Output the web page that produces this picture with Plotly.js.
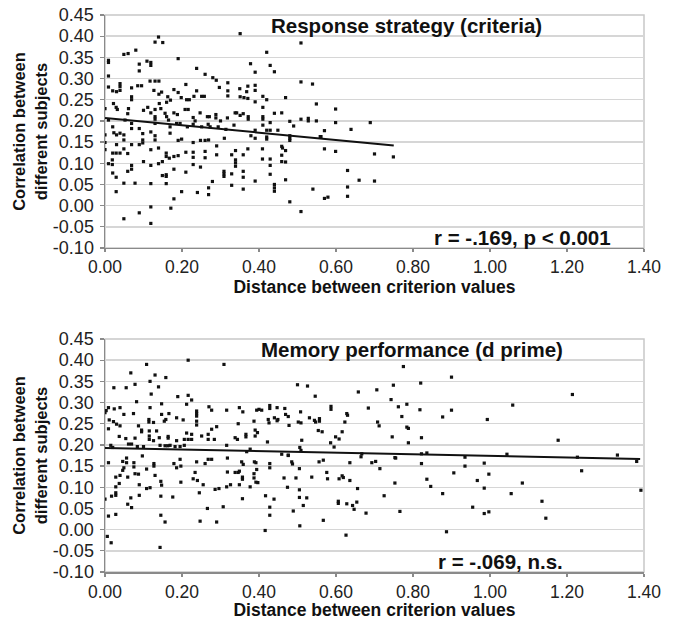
<!DOCTYPE html>
<html>
<head>
<meta charset="utf-8">
<script src="https://cdn.plot.ly/plotly-3.0.1.min.js"></script>
<style>html,body{margin:0;padding:0;background:#fff;}#chart{width:674px;height:620px;}</style>
</head>
<body>
<div id="chart"></div>
<script>
// ---------- DATA ----------
const xTicks = [0, 0.2, 0.4, 0.6, 0.8, 1.0, 1.2, 1.4];
const xTickLabels = ['0.00','0.20','0.40','0.60','0.80','1.00','1.20','1.40'];
const yTicks = [-0.10,-0.05,0,0.05,0.10,0.15,0.20,0.25,0.30,0.35,0.40,0.45];
const yTickLabels = ['-0.10','-0.05','0.00','0.05','0.10','0.15','0.20','0.25','0.30','0.35','0.40','0.45'];

const topTitle = 'Response strategy (criteria)';
const bottomTitle = 'Memory performance (d prime)';
const topStat = 'r = -.169, p < 0.001';
const bottomStat = 'r = -.069, n.s.';
const xTitle = 'Distance between criterion values';
const yTitle = 'Correlation between<br>different subjects';

// [distance, correlation] pairs — response strategy (criteria)
const criteriaPoints = [
[0.139,0.398],[0.13,0.386],[0.15,0.385],[0.351,0.406],[0.08,0.367],[0.06,0.359],[0.049,0.357],[0.009,0.343],[0.009,0.338],[0.089,0.334],[0.109,0.341],[0.119,0.338],[0.119,0.331],[0.089,0.318],[0.19,0.347],[0.238,0.324],[0.009,0.306],[0.26,0.31],[0.28,0.302],[0.289,0.296],[0.117,0.294],[0.13,0.294],[0.14,0.294],[0.039,0.288],[0.039,0.281],[0.039,0.272],[0.02,0.271],[0.03,0.269],[0.069,0.278],[0.069,0.257],[0.069,0.25],[0.085,0.283],[0.095,0.283],[0.009,0.28],[0.127,0.272],[0.147,0.268],[0.14,0.263],[0.163,0.257],[0.17,0.249],[0.16,0.244],[0.179,0.274],[0.19,0.267],[0.21,0.286],[0.198,0.255],[0.212,0.25],[0.219,0.25],[0.231,0.258],[0.238,0.271],[0.251,0.258],[0.258,0.258],[0.297,0.279],[0.319,0.29],[0.319,0.271],[0.319,0.259],[0.35,0.276],[0.351,0.257],[0.368,0.269],[0.361,0.255],[0.0,0.229],[0.022,0.241],[0.029,0.232],[0.032,0.227],[0.061,0.229],[0.009,0.202],[0.052,0.202],[0.059,0.217],[0.1,0.225],[0.111,0.232],[0.119,0.219],[0.13,0.227],[0.13,0.21],[0.13,0.204],[0.141,0.241],[0.145,0.229],[0.156,0.218],[0.16,0.21],[0.165,0.202],[0.179,0.219],[0.188,0.215],[0.208,0.227],[0.216,0.227],[0.229,0.208],[0.234,0.2],[0.247,0.219],[0.266,0.21],[0.271,0.21],[0.288,0.215],[0.288,0.207],[0.3,0.2],[0.318,0.207],[0.338,0.219],[0.342,0.219],[0.351,0.213],[0.359,0.217],[0.02,0.186],[0.023,0.172],[0.03,0.167],[0.039,0.171],[0.049,0.167],[0.069,0.194],[0.069,0.182],[0.089,0.182],[0.098,0.17],[0.119,0.174],[0.13,0.194],[0.169,0.186],[0.169,0.171],[0.186,0.194],[0.195,0.194],[0.214,0.186],[0.229,0.192],[0.251,0.186],[0.268,0.192],[0.273,0.186],[0.294,0.186],[0.314,0.18],[0.335,0.19],
[0.0,0.167],[0.0,0.149],[0.0,0.132],[0.009,0.099],[0.019,0.108],[0.019,0.097],[0.03,0.144],[0.02,0.124],[0.029,0.124],[0.039,0.124],[0.049,0.155],[0.049,0.134],[0.02,0.077],[0.029,0.067],[0.029,0.033],[0.049,0.053],[0.049,-0.031],[0.059,0.123],[0.069,0.144],[0.069,0.095],[0.069,0.086],[0.059,0.081],[0.078,0.053],[0.089,-0.017],[0.089,0.144],[0.098,0.148],[0.098,0.155],[0.1,0.104],[0.119,0.132],[0.119,0.095],[0.119,0.052],[0.119,-0.003],[0.119,-0.042],[0.13,0.155],[0.13,0.165],[0.139,0.136],[0.139,0.099],[0.149,0.104],[0.149,0.071],[0.159,0.073],[0.159,0.069],[0.159,0.052],[0.159,0.124],[0.159,0.116],[0.167,0.112],[0.171,-0.006],[0.179,0.116],[0.19,0.118],[0.179,0.086],[0.179,0.016],[0.19,0.154],[0.199,0.157],[0.199,0.033],[0.21,0.126],[0.21,0.079],[0.229,0.149],[0.229,0.126],[0.229,0.114],[0.229,0.097],[0.24,0.031],[0.248,0.154],[0.248,0.091],[0.26,0.154],[0.26,0.128],[0.26,0.113],[0.269,0.155],[0.269,0.042],[0.269,0.026],[0.279,0.057],[0.29,0.12],[0.29,0.141],[0.31,0.159],[0.309,0.081],[0.309,0.075],[0.309,0.069],[0.329,0.12],[0.329,0.075],[0.329,0.048],[0.339,0.13],[0.339,0.108],[0.339,0.101],[0.339,0.093],[0.359,0.12],[0.359,0.081],[0.359,0.067],[0.359,0.039],
[0.509,0.384],[0.42,0.362],[0.378,0.335],[0.39,0.315],[0.429,0.331],[0.44,0.316],[0.509,0.292],[0.539,0.287],[0.371,0.282],[0.39,0.284],[0.39,0.272],[0.371,0.253],[0.39,0.245],[0.41,0.258],[0.42,0.25],[0.469,0.255],[0.549,0.24],[0.41,0.232],[0.599,0.228],[0.372,0.21],[0.372,0.204],[0.41,0.21],[0.41,0.204],[0.44,0.218],[0.459,0.219],[0.429,0.196],[0.48,0.199],[0.49,0.188],[0.509,0.204],[0.528,0.206],[0.528,0.2],[0.549,0.2],[0.599,0.196],[0.689,0.196],[0.57,0.177],[0.639,0.18],[0.39,0.178],[0.42,0.178],[0.429,0.178],[0.449,0.178],[0.41,0.19],[0.561,0.163],
[0.379,0.165],[0.39,0.159],[0.42,0.162],[0.42,0.157],[0.48,0.165],[0.48,0.159],[0.48,0.154],[0.559,0.163],[0.371,0.134],[0.409,0.134],[0.459,0.14],[0.461,0.136],[0.469,0.13],[0.57,0.134],[0.599,0.128],[0.7,0.122],[0.749,0.115],[0.409,0.11],[0.429,0.11],[0.459,0.119],[0.459,0.104],[0.469,0.103],[0.429,0.095],[0.429,0.074],[0.39,0.058],[0.469,0.061],[0.44,0.05],[0.44,0.042],[0.44,0.034],[0.54,0.039],[0.63,0.083],[0.66,0.06],[0.7,0.058],[0.63,0.044],[0.63,0.022],[0.57,0.017],[0.579,0.02],[0.48,0.009],[0.509,-0.014]
];

// [distance, correlation] pairs — memory performance (d prime)
const dprimePoints = [
[0.216,0.40],[0.108,0.39],[0.309,0.39],[0.067,0.37],[0.13,0.365],[0.158,0.359],[0.117,0.35],[0.078,0.343],[0.023,0.335],[0.055,0.335],[0.139,0.337],[0.12,0.32],[0.189,0.314],[0.216,0.317],[0.225,0.306],[0.082,0.302],[0.147,0.297],[0.212,0.296],[0.003,0.281],[0.009,0.288],[0.0,0.276],[0.024,0.285],[0.039,0.288],[0.117,0.288],[0.166,0.274],[0.158,0.26],[0.154,0.256],[0.147,0.272],[0.238,0.28],[0.238,0.274],[0.238,0.268],[0.27,0.29],[0.277,0.282],[0.316,0.282],[0.349,0.288],[0.358,0.278],[0.394,0.282],[0.4,0.284],[0.407,0.282],[0.011,0.259],[0.022,0.255],[0.03,0.249],[0.039,0.245],[0.049,0.272],[0.074,0.274],[0.009,0.238],[0.087,0.245],[0.095,0.235],[0.095,0.231],[0.114,0.26],[0.114,0.254],[0.126,0.253],[0.186,0.264],[0.203,0.259],[0.238,0.256],[0.238,0.247],[0.29,0.243],[0.277,0.237],[0.268,0.225],[0.268,0.213],[0.346,0.25],[0.387,0.256],[0.39,0.235],[0.396,0.229],[0.39,0.221],[0.366,0.225],[0.366,0.219],[0.344,0.213],[0.338,0.217],[0.284,0.213],[0.251,0.221],[0.212,0.228],[0.225,0.225],[0.206,0.213],[0.216,0.213],[0.225,0.213],[0.134,0.233],[0.141,0.217],[0.164,0.216],[0.164,0.22],[0.115,0.233],[0.115,0.221],[0.115,0.213],[0.037,0.22],[0.054,0.215],[0.078,0.216],[0.126,0.21],[0.186,0.21],[0.316,0.199],[0.015,0.199],[0.02,0.194],[0.061,0.202],[0.069,0.202],[0.084,0.196],[0.1,0.196],[0.143,0.199],[0.156,0.198],[0.163,0.198],[0.169,0.199],[0.182,0.196],[0.195,0.196],[0.206,0.199],[0.377,0.19],[0.368,0.184],
[0.0,0.072],[0.009,0.158],[0.009,0.032],[0.006,-0.016],[0.016,-0.031],[0.017,0.079],[0.028,0.081],[0.028,0.087],[0.028,0.101],[0.028,0.124],[0.028,0.036],[0.037,0.109],[0.039,0.128],[0.046,0.14],[0.049,0.146],[0.046,0.161],[0.056,0.158],[0.056,0.169],[0.059,0.124],[0.059,0.06],[0.067,0.075],[0.069,0.052],[0.075,0.158],[0.075,0.148],[0.078,0.132],[0.087,0.131],[0.089,0.106],[0.089,0.081],[0.097,0.174],[0.108,0.143],[0.108,0.097],[0.117,0.099],[0.127,0.156],[0.127,0.15],[0.13,0.128],[0.145,0.114],[0.147,0.105],[0.145,0.079],[0.145,0.034],[0.156,0.018],[0.143,-0.042],[0.176,0.077],[0.179,0.156],[0.186,0.146],[0.195,0.166],[0.197,0.15],[0.197,0.112],[0.229,0.12],[0.24,0.116],[0.234,0.135],[0.238,0.16],[0.245,0.087],[0.247,0.02],[0.255,0.106],[0.26,0.156],[0.268,0.166],[0.277,0.166],[0.266,0.05],[0.286,0.095],[0.296,0.097],[0.29,0.018],[0.307,0.054],[0.316,0.101],[0.318,0.136],[0.318,0.169],[0.326,0.106],[0.338,0.135],[0.346,0.135],[0.349,0.138],[0.349,0.106],[0.355,0.16],[0.359,0.154],[0.357,0.124],[0.357,0.119],[0.357,0.073],[0.377,0.101],[0.388,0.16],[0.392,0.158],[0.394,0.142],[0.387,0.132],[0.387,0.122],[0.392,0.112],[0.397,0.111],
[0.775,0.385],[0.5,0.342],[0.526,0.339],[0.546,0.315],[0.749,0.341],[0.82,0.346],[0.658,0.325],[0.706,0.33],[0.743,0.307],[0.428,0.293],[0.428,0.286],[0.447,0.288],[0.467,0.286],[0.587,0.291],[0.587,0.284],[0.684,0.287],[0.762,0.29],[0.784,0.296],[0.818,0.283],[0.508,0.278],[0.469,0.272],[0.476,0.267],[0.44,0.264],[0.449,0.26],[0.447,0.257],[0.424,0.26],[0.426,0.252],[0.478,0.246],[0.502,0.254],[0.509,0.252],[0.531,0.264],[0.544,0.258],[0.547,0.254],[0.557,0.262],[0.557,0.256],[0.628,0.274],[0.63,0.27],[0.623,0.254],[0.708,0.254],[0.712,0.245],[0.771,0.267],[0.784,0.242],[0.788,0.239],[0.554,0.234],[0.564,0.231],[0.616,0.231],[0.599,0.219],[0.608,0.214],[0.746,0.219],[0.822,0.217],[0.422,0.207],[0.511,0.211],[0.586,0.205],[0.595,0.195],[0.788,0.205],[0.506,0.194],[0.509,0.187],[0.667,0.179],[0.459,0.178],[0.476,0.175],[0.753,0.17],[0.822,0.179],[0.836,0.181],
[0.476,0.176],[0.485,0.16],[0.487,0.155],[0.428,0.156],[0.428,0.146],[0.505,0.144],[0.556,0.16],[0.567,0.164],[0.636,0.158],[0.665,0.172],[0.693,0.158],[0.703,0.161],[0.714,0.144],[0.755,0.169],[0.822,0.156],[0.576,0.135],[0.578,0.12],[0.465,0.122],[0.496,0.122],[0.537,0.124],[0.608,0.12],[0.616,0.127],[0.619,0.123],[0.636,0.116],[0.753,0.11],[0.836,0.119],[0.846,0.102],[0.474,0.1],[0.505,0.094],[0.656,0.097],[0.417,0.08],[0.439,0.072],[0.505,0.076],[0.524,0.075],[0.725,0.08],[0.515,0.057],[0.606,0.067],[0.606,0.062],[0.628,0.061],[0.643,0.057],[0.654,0.065],[0.647,0.048],[0.428,0.053],[0.489,0.044],[0.678,0.039],[0.766,0.043],[0.428,0.034],[0.567,0.022],[0.506,0.009],[0.416,-0.002],[0.626,-0.013],
[0.877,0.266],[0.877,0.085],[0.887,-0.005],[0.9,0.36],[0.9,0.282],[0.906,0.134],[0.935,0.171],[0.935,0.15],[0.955,0.053],[0.967,0.116],[0.985,0.157],[0.985,0.098],[0.985,0.038],[0.997,0.042],[0.993,0.26],[0.997,0.131],[1.044,0.178],[1.055,0.085],[1.059,0.294],[1.084,0.11],[1.135,0.067],[1.145,0.027],[1.177,0.211],[1.214,0.319],[1.227,0.171],[1.238,0.139],[1.331,0.176],[1.381,0.161],[1.392,0.093]
];

// fitted trend lines (end points)
const criteriaTrendX = [0, 0.75];
const criteriaTrendY = [0.207, 0.142];
const dprimeTrendX = [0, 1.39];
const dprimeTrendY = [0.193, 0.167];

// ---------- CHART ----------
const FONT = '"Liberation Sans", Arial, Helvetica, sans-serif';
const markerStyle = {color: '#111', size: 3.2, symbol: 'square'};

const traces = [
  {type: 'scatter', mode: 'markers', x: criteriaPoints.map(p => p[0]), y: criteriaPoints.map(p => p[1]),
   xaxis: 'x', yaxis: 'y', marker: markerStyle, hoverinfo: 'skip'},
  {type: 'scatter', mode: 'lines', x: criteriaTrendX, y: criteriaTrendY,
   xaxis: 'x', yaxis: 'y', line: {color: '#111', width: 2}},
  {type: 'scatter', mode: 'markers', x: dprimePoints.map(p => p[0]), y: dprimePoints.map(p => p[1]),
   xaxis: 'x2', yaxis: 'y2', marker: markerStyle, hoverinfo: 'skip'},
  {type: 'scatter', mode: 'lines', x: dprimeTrendX, y: dprimeTrendY,
   xaxis: 'x2', yaxis: 'y2', line: {color: '#111', width: 2}}
];

function xAxis(anchor) {
  return {
    anchor: anchor, domain: [0, 1], range: [0, 1.4], fixedrange: true,
    tickmode: 'array', tickvals: xTicks, ticktext: xTickLabels,
    showgrid: false, zeroline: false,
    showline: true, linecolor: '#8a8a8a', linewidth: 1.5,
    ticks: 'outside', ticklen: 3, tickcolor: '#8a8a8a', tickwidth: 1.2,
    tickfont: {family: FONT, size: 17.5, color: '#222'},
    title: {text: '<b>' + xTitle + '</b>', font: {family: FONT, size: 17.5, color: '#111'}, standoff: 4},
    automargin: false
  };
}
function yAxis(anchor, domain) {
  return {
    anchor: anchor, domain: domain, range: [-0.1, 0.45], fixedrange: true,
    tickmode: 'array', tickvals: yTicks, ticktext: yTickLabels,
    showgrid: true, gridcolor: '#d6d6d6', gridwidth: 1.5, zeroline: false,
    showline: true, linecolor: '#8a8a8a', linewidth: 1.5,
    ticks: 'outside', ticklen: 4, tickcolor: '#8a8a8a', tickwidth: 1.2,
    ticklabelstandoff: 2,
    tickfont: {family: FONT, size: 18, color: '#222'},
    title: {text: '<b>' + yTitle + '</b>', font: {family: FONT, size: 16.5, color: '#111'}, standoff: 1},
    automargin: false
  };
}

const layout = {
  width: 674, height: 620,
  margin: {l: 105, r: 30, t: 15, b: 48},
  paper_bgcolor: '#fff', plot_bgcolor: '#fff',
  showlegend: false,
  font: {family: FONT, color: '#111'},
  xaxis: xAxis('y'),
  yaxis: yAxis('x', [0.5817, 1]),
  xaxis2: xAxis('y2'),
  yaxis2: yAxis('x2', [0, 0.4183]),
  shapes: [
    {type: 'rect', xref: 'x domain', yref: 'y domain', x0: 0, x1: 1, y0: 0, y1: 1, line: {color: '#c8c8c8', width: 1.5}, layer: 'below'},
    {type: 'rect', xref: 'x2 domain', yref: 'y2 domain', x0: 0, x1: 1, y0: 0, y1: 1, line: {color: '#c8c8c8', width: 1.5}, layer: 'below'}
  ],
  annotations: [
    {xref: 'x domain', yref: 'y domain', x: 0.56, y: 0.955, xanchor: 'center', yanchor: 'middle', showarrow: false,
     text: '<b>' + topTitle + '</b>', font: {family: FONT, size: 20.5, color: '#111'}},
    {xref: 'x domain', yref: 'y domain', x: 0.9425, y: 0.047, xanchor: 'right', yanchor: 'middle', showarrow: false,
     text: '<b>' + topStat + '</b>', font: {family: FONT, size: 20.5, color: '#111'}},
    {xref: 'x2 domain', yref: 'y2 domain', x: 0.57, y: 0.953, xanchor: 'center', yanchor: 'middle', showarrow: false,
     text: '<b>' + bottomTitle + '</b>', font: {family: FONT, size: 20.5, color: '#111'}},
    {xref: 'x2 domain', yref: 'y2 domain', x: 0.853, y: 0.043, xanchor: 'right', yanchor: 'middle', showarrow: false,
     text: '<b>' + bottomStat + '</b>', font: {family: FONT, size: 20.5, color: '#111'}}
  ]
};

Plotly.newPlot('chart', traces, layout, {displayModeBar: false, staticPlot: true});
</script>
</body>
</html>
